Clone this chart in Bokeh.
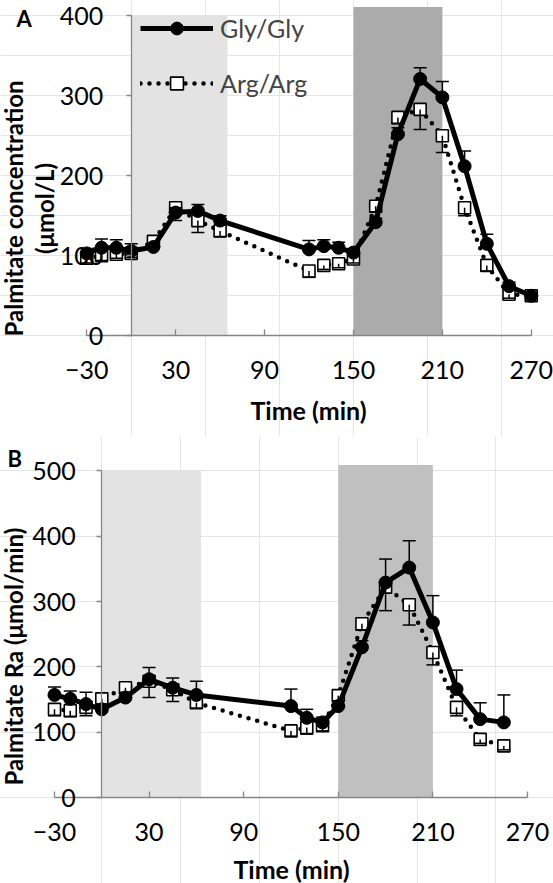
from bokeh.plotting import figure
from bokeh.models import (ColumnDataSource, Range1d, LinearAxis, FixedTicker, Whisker,
                          TeeHead, Legend, LegendItem, Label)
from bokeh.layouts import column
from bokeh.embed import file_html
from bokeh.resources import INLINE

# ---------------- data ----------------
time_a = [-30, -20, -10, 0, 15, 30, 45, 60, 120, 130, 140, 150, 165, 180, 195, 210, 225, 240, 255, 270]
gly_a = [103, 110, 110, 106, 111, 154, 156, 144, 108, 112, 110, 104, 142, 252, 321, 298, 212, 115, 62, 50]
gly_err_a = [6, 11, 10, 9, 5, 6, 8, 6, 11, 8, 7, 5, 5, 8, 14, 20, 19, 12, 5, 4]
arg_a = [97, 100, 102, 103, 118, 160, 144, 131, 81, 88, 90, 96, 162, 273, 283, 250, 160, 88, 52, 50]
arg_err_a = [6, 6, 5, 5, 5, 16, 15, 7, 8, 5, 5, 5, 7, 8, 25, 21, 10, 7, 5, 4]

time_b = [-30, -20, -10, 0, 15, 30, 45, 60, 120, 130, 140, 150, 165, 180, 195, 210, 225, 240, 255]
gly_b = [157, 151, 143, 135, 153, 181, 168, 157, 140, 122, 115, 140, 230, 329, 352, 268, 166, 120, 115]
gly_err_b = [12, 12, 18, 8, 8, 18, 15, 21, 26, 13, 8, 8, 10, 36, 41, 41, 29, 25, 42]
arg_b = [135, 133, 138, 151, 168, 178, 165, 145, 102, 107, 110, 156, 266, 322, 295, 222, 138, 89, 79]
arg_err_b = [10, 9, 13, 8, 8, 25, 18, 8, 8, 10, 8, 8, 10, 36, 31, 19, 13, 6, 6]

x_ticks = [-30, 30, 90, 150, 210, 270]
y_ticks_a = [0, 100, 200, 300, 400]
y_ticks_b = [0, 100, 200, 300, 400, 500]

# shaded periods (minutes)
light_a = (0, 65)
light_b = (0, 63)
dark_span = (150, 210)

series_names = ["Gly/Gly", "Arg/Arg"]
x_title = "Time (min)"
y_title_a = ["Palmitate concentration", "(\u03bcmol/L)"]
y_title_b = "Palmitate Ra (\u03bcmol/min)"

FONT = "Lato"
GRAY = "#868686"
W = 553


def make_panel(H, x_rng, y_rng, times, gly, gly_err, arg, arg_err, y_ticks, dark_top,
               light, light_color, dark_color, ylab_standoff):
    p = figure(x_range=Range1d(*x_rng), y_range=Range1d(*y_rng),
               frame_width=W, frame_height=H,
               min_border_left=0, min_border_top=0, min_border_right=0, min_border_bottom=0,
               x_axis_location=None, y_axis_location=None,
               output_backend="svg", toolbar_location=None, outline_line_color=None)
    p.background_fill_color = "white"
    p.border_fill_color = "white"

    y_max = y_ticks[-1]
    # shading
    p.quad(left=[light[0]], right=[light[1]], bottom=[0], top=[y_max],
           fill_color=light_color, line_color=None)
    p.quad(left=[dark_span[0]], right=[dark_span[1]], bottom=[0], top=[dark_top],
           fill_color=dark_color, line_color=None)

    # axes (drawn at data locations inside the canvas)
    xax = LinearAxis(fixed_location=0, bounds=(x_ticks[0], x_ticks[-1]),
                     ticker=FixedTicker(ticks=x_ticks),
                     major_label_overrides={-30: "\u221230"},
                     axis_line_color=GRAY, axis_line_width=1.3,
                     major_tick_line_color=GRAY, major_tick_line_width=1.3,
                     major_tick_in=6, major_tick_out=0, minor_tick_in=0, minor_tick_out=0,
                     major_label_text_font=FONT, major_label_text_font_size="25px",
                     major_label_text_color="black", major_label_standoff=25)
    p.add_layout(xax, "below")

    yax = LinearAxis(fixed_location=0, bounds=(0, y_max), ticker=FixedTicker(ticks=y_ticks),
                     axis_line_color=GRAY, axis_line_width=1.3,
                     major_tick_line_color=GRAY, major_tick_line_width=1.3,
                     major_tick_in=0, major_tick_out=5, minor_tick_in=0, minor_tick_out=0,
                     major_label_text_font=FONT, major_label_text_font_size="25px",
                     major_label_text_color="black", major_label_standoff=ylab_standoff)
    p.add_layout(yax, "left")

    # Arg/Arg
    src_arg = ColumnDataSource(dict(t=times, y=arg, lo=[v - e for v, e in zip(arg, arg_err)]))
    al = p.line("t", "y", source=src_arg, line_color="black", line_width=4.5,
                line_dash="0 9", line_cap="round")
    asq = p.scatter("t", "y", source=src_arg, marker="square", size=12,
                    fill_color="white", line_color="black", line_width=1.6)
    p.add_layout(Whisker(source=src_arg, base="t", lower="lo", upper="y", dimension="height",
                         line_color="black", line_width=1.5, upper_head=None,
                         lower_head=TeeHead(size=13, line_color="black", line_width=1.5),
                         level="glyph"))

    # Gly/Gly
    src_gly = ColumnDataSource(dict(t=times, y=gly, up=[v + e for v, e in zip(gly, gly_err)]))
    gl = p.line("t", "y", source=src_gly, line_color="black", line_width=5)
    gs = p.scatter("t", "y", source=src_gly, marker="circle", size=13,
                   fill_color="black", line_color="black")
    p.add_layout(Whisker(source=src_gly, base="t", lower="y", upper="up", dimension="height",
                         line_color="black", line_width=1.5, lower_head=None,
                         upper_head=TeeHead(size=13, line_color="black", line_width=1.5),
                         level="glyph"))
    return p, (gl, gs), (al, asq)


def text(p, txt, x, y, size="25px", bold=True, angle=0, align="center", baseline="middle"):
    p.add_layout(Label(x=x, y=y, x_units="screen", y_units="screen", text=txt,
                       angle=angle, angle_units="deg", text_font=FONT,
                       text_font_style="bold" if bold else "normal", text_font_size=size,
                       text_color="black", text_align=align, text_baseline=baseline))


# ---------------- panel A ----------------
HA = 436
pa, g_a, a_a = make_panel(HA, (-88.2, 285.0), (-125.9, 419.1), time_a, gly_a, gly_err_a,
                          arg_a, arg_err_a, y_ticks_a, 411, light_a, "#e3e3e3", "#ababab", 23)
leg = Legend(items=[LegendItem(label=series_names[0], renderers=list(g_a)),
                    LegendItem(label=series_names[1], renderers=list(a_a))],
             location=(140, 337), glyph_width=73, glyph_height=32, spacing=23,
             padding=0, margin=0, label_standoff=7,
             label_text_font=FONT, label_text_font_size="25px",
             background_fill_alpha=0, border_line_color=None)
pa.add_layout(leg)
text(pa, "A", 16, HA - 4, size="22px", align="left", baseline="top")
text(pa, y_title_a[0], 13, HA - 208, size="24px", angle=90)
text(pa, y_title_a[1], 44, HA - 208, size="24px", angle=90)
text(pa, x_title, 308, HA - 409, size="25px")

# ---------------- panel B ----------------
HB = 447
pb, g_b, a_b = make_panel(HB, (-64.25, 286.5), (-131.6, 552.6), time_b, gly_b, gly_err_b,
                          arg_b, arg_err_b, y_ticks_b, 509, light_b, "#e3e3e3", "#c0c0c0", 21)
text(pb, "B", 7, HB - 8, size="22px", align="left", baseline="top")
text(pb, y_title_b, 13, HB - 220, size="24px", angle=90)
text(pb, x_title, 291, HB - 432, size="25px")

layout = column(pa, pb)
open("out.html", "w").write(file_html(layout, INLINE))
